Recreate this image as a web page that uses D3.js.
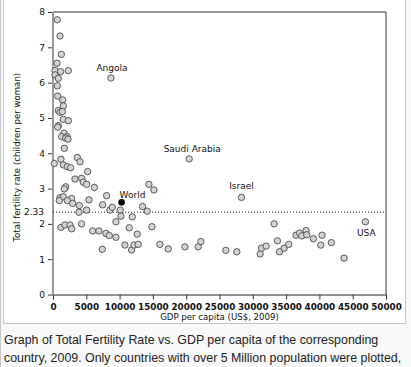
<!DOCTYPE html>
<html>
<head>
<meta charset="utf-8">
<script src="https://cdn.jsdelivr.net/npm/d3@7"></script>
<style>
  body { margin: 0; background: #f9f9f9; }
  svg { display: block; }
</style>
</head>
<body>
<svg id="chart" width="411" height="367"></svg>
<script>
// GDP per capita (US$, 2009) and total fertility rate, one entry per country
const gdpPerCapita = [650, 1050, 1250, 600, 300, 1150, 2300, 300, 800, 650, 700, 1450, 1550, 800, 1050, 1400,
    1550, 2300, 800, 700, 1650, 1300, 2150, 1900, 2250, 1700, 1200, 3650, 4050, 200, 1550, 2150, 2650, 5200,
    3300, 4300, 4550, 5050, 6200, 1900, 1700, 8050,
    1050, 1550, 2800, 950, 2150, 2950, 3950, 5400, 7450, 8550, 8900, 5050, 3900, 10100, 10200, 9450, 11900,
    13450, 14150, 14400, 15150,
    1200, 1800, 2550, 2800, 4300, 5950, 6900, 7950, 8450, 9450, 7400, 11450, 10800, 11800, 12150, 12800,
    12650, 14850, 16050, 17300, 19800, 21800, 22200, 25950, 27600, 31100, 31300, 32000, 33200, 33700, 34000,
    34700, 35400, 36500, 37000, 37350, 38000, 38100, 39100, 40400, 40200, 41800, 43700];
const fertilityRate = [7.78, 7.32, 6.80, 6.55, 6.34, 6.31, 6.34, 6.22, 6.12, 5.91, 5.62, 5.51, 5.34, 5.21, 5.16, 5.18,
    4.96, 4.92, 4.78, 4.74, 4.57, 4.47, 4.47, 4.43, 4.40, 4.14, 3.83, 3.88, 3.76, 3.71, 3.67, 3.62, 3.59, 3.48,
    3.27, 3.29, 3.18, 3.12, 3.03, 3.05, 2.99, 2.80,
    2.74, 2.77, 2.72, 2.66, 2.66, 2.58, 2.52, 2.68, 2.54, 2.39, 2.47, 2.39, 2.33, 2.39, 2.22, 2.06, 2.20,
    2.49, 2.36, 3.12, 2.96,
    1.90, 1.97, 1.97, 1.86, 2.00, 1.80, 1.80, 1.73, 1.67, 1.62, 1.28, 1.89, 1.40, 1.26, 1.40, 1.42,
    1.71, 1.92, 1.42, 1.29, 1.35, 1.35, 1.50, 1.25, 1.21, 1.15, 1.31, 1.37, 2.00, 1.52, 1.21,
    1.31, 1.42, 1.68, 1.74, 1.66, 1.81, 1.69, 1.58, 1.68, 1.40, 1.47, 1.03];

// labelled countries
const namedCountries = ["Angola", "Saudi Arabia", "Israel", "USA"];
const namedGdp = [8700, 20450, 28300, 46900];
const namedTfr = [6.13, 3.84, 2.75, 2.06];

// world average
const worldGdp = 10300;
const worldTfr = 2.61;
const replacementRate = 2.33;

const xTicks = [0, 5000, 10000, 15000, 20000, 25000, 30000, 35000, 40000, 45000, 50000];
const yTicks = [0, 1, 2, 3, 4, 5, 6, 7, 8];

const svg = d3.select("#chart");
const font = "DejaVu Sans, sans-serif";

// image frame
svg.append("rect")
    .attr("x", 0.5).attr("y", -1).attr("width", 420).attr("height", 400)
    .attr("fill", "none").attr("stroke", "#c8c8c8");
svg.append("rect")
    .attr("x", 3.5).attr("y", -1).attr("width", 402).attr("height", 324.5)
    .attr("fill", "#fff").attr("stroke", "#c8c8c8");

const x = d3.scaleLinear().domain([0, 50000]).range([53, 386]);
const y = d3.scaleLinear().domain([0, 8]).range([294.5, 12]);

// x axis
const xAxis = svg.append("g")
    .attr("transform", "translate(0," + y(0) + ")")
    .call(d3.axisBottom(x).tickValues(xTicks).tickSize(5).tickPadding(4.5).tickFormat(d3.format("d")));
xAxis.select(".domain").attr("stroke", "#222");
xAxis.selectAll(".tick line").attr("stroke", "#333");
xAxis.selectAll("text")
    .style("font-family", font).style("font-size", "8.8px").style("font-weight", "bold").attr("fill", "#111");

// y axis
const yAxis = svg.append("g")
    .attr("transform", "translate(" + x(0) + ",0)")
    .call(d3.axisLeft(y).tickValues(yTicks).tickSize(5).tickPadding(3).tickFormat(d3.format("d")));
yAxis.select(".domain").remove();
yAxis.selectAll(".tick line").attr("stroke", "#333");
yAxis.selectAll("text")
    .style("font-family", font).style("font-size", "9px").attr("fill", "#111");

// top and right frame lines
svg.append("line")
    .attr("x1", x(0)).attr("x2", x(50000)).attr("y1", y(8)).attr("y2", y(8))
    .attr("stroke", "#333").attr("stroke-width", 1);
svg.append("line")
    .attr("x1", x(50000)).attr("x2", x(50000)).attr("y1", y(8)).attr("y2", y(0))
    .attr("stroke", "#333").attr("stroke-width", 1);
// gray y axis line
svg.append("line")
    .attr("x1", x(0)).attr("x2", x(0)).attr("y1", y(8)).attr("y2", y(0))
    .attr("stroke", "#9a9a9a").attr("stroke-width", 2);

// replacement rate line
svg.append("line")
    .attr("x1", x(0)).attr("x2", x(50000))
    .attr("y1", y(replacementRate)).attr("y2", y(replacementRate))
    .attr("stroke", "#222").attr("stroke-width", 1).attr("stroke-dasharray", "1,2");
svg.append("text")
    .attr("x", 44).attr("y", y(replacementRate)).attr("dy", "0.35em")
    .attr("text-anchor", "end")
    .style("font-family", font).style("font-size", "9px").attr("fill", "#111")
    .text(replacementRate.toFixed(2));

// points
const points = gdpPerCapita.map((g, i) => ({ gdp: g, tfr: fertilityRate[i] }));
namedCountries.forEach((n, i) => points.push({ gdp: namedGdp[i], tfr: namedTfr[i], name: n }));

svg.append("g").selectAll("circle")
    .data(points)
    .enter()
    .append("circle")
    .attr("cx", d => x(d.gdp))
    .attr("cy", d => y(d.tfr))
    .attr("r", 3.2)
    .attr("fill", "#d3d3d3")
    .attr("stroke", "#3a3a3a")
    .attr("stroke-width", 0.8);

svg.append("circle")
    .attr("cx", x(worldGdp)).attr("cy", y(worldTfr)).attr("r", 3.3)
    .attr("fill", "#000");

// labels
const labelOffset = { "Angola": [1, -7], "Saudi Arabia": [3, -7], "Israel": [0, -8], "USA": [1, 14] };
svg.append("g").selectAll("text")
    .data(points.filter(d => d.name))
    .enter()
    .append("text")
    .attr("x", d => x(d.gdp) + labelOffset[d.name][0])
    .attr("y", d => y(d.tfr) + labelOffset[d.name][1])
    .attr("text-anchor", "middle")
    .style("font-family", font).style("font-size", "9px").attr("fill", "#111")
    .text(d => d.name);
svg.append("text")
    .attr("x", x(worldGdp) - 2).attr("y", y(worldTfr) - 4.5)
    .style("font-family", font).style("font-size", "9px").attr("fill", "#111")
    .text("World");

// axis titles
svg.append("text")
    .attr("x", (x(0) + x(50000)) / 2).attr("y", 320)
    .attr("text-anchor", "middle")
    .style("font-family", font).style("font-size", "8.6px").attr("fill", "#111")
    .text("GDP per capita (US$, 2009)");
svg.append("text")
    .attr("transform", "translate(20," + (y(4) + 4) + ") rotate(-90)")
    .attr("text-anchor", "middle")
    .style("font-family", font).style("font-size", "8.6px").attr("fill", "#111")
    .text("Total fertility rate (children per woman)");

// caption
const caption = ["Graph of Total Fertility Rate vs. GDP per capita of the corresponding",
    "country, 2009. Only countries with over 5 Million population were plotted,"];
svg.append("g").selectAll("text")
    .data(caption)
    .enter()
    .append("text")
    .attr("x", 4)
    .attr("y", (d, i) => 344 + i * 18)
    .style("font-family", "Liberation Sans, Arial, sans-serif").style("font-size", "12.4px").attr("fill", "#222")
    .text(d => d);
</script>
</body>
</html>
